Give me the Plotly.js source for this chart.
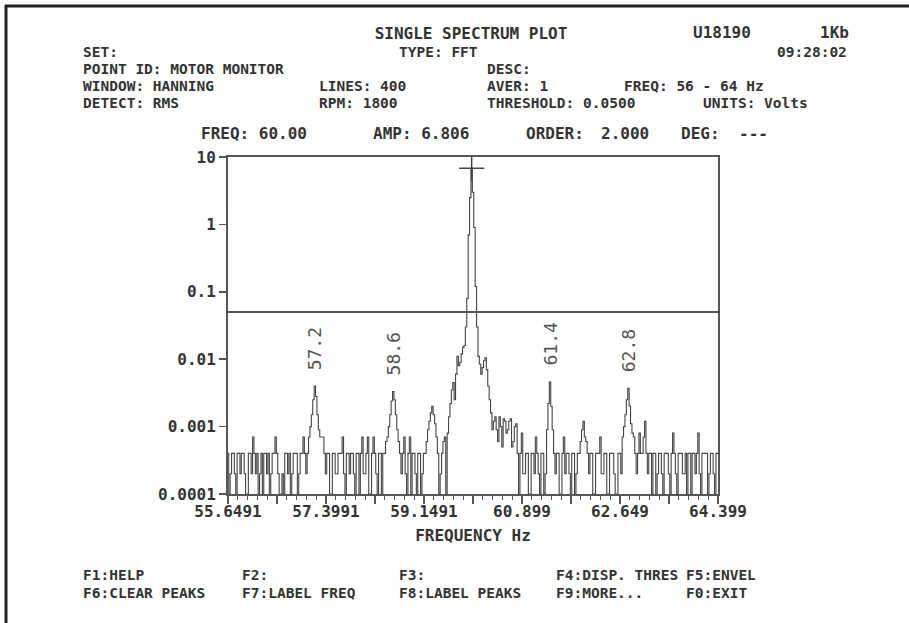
<!DOCTYPE html>
<html><head><meta charset="utf-8">
<script src="https://cdn.plot.ly/plotly-3.0.1.min.js"></script>
<style>html,body{margin:0;padding:0;background:#fff;overflow:hidden}#chart{width:909px;height:623px}</style>
</head><body><div id="chart"></div>
<script>
// ---- data ----
const freqStart = 55.65;   // Hz, first spectral line shown
const freqStep = 0.025;    // Hz between lines
const amplitudes = [
 4e-4,1e-4,2e-4,4e-4,4e-4,2e-4,1e-4,4e-4,4e-4,2e-4,
 4e-4,4e-4,2e-4,1e-4,1e-4,4e-4,4e-4,2e-4,7e-4,4e-4,
 2e-4,4e-4,1e-4,2e-4,4e-4,1e-4,4e-4,4e-4,2e-4,4e-4,
 1e-4,2e-4,4e-4,4e-4,7e-4,4e-4,2e-4,1e-4,1e-4,2e-4,
 1e-4,4e-4,4e-4,2e-4,4e-4,1e-4,2e-4,4e-4,4e-4,4e-4,
 1e-4,2e-4,4e-4,4e-4,7e-4,4e-4,2e-4,4e-4,7e-4,10e-4,
 15e-4,25e-4,40e-4,28e-4,15e-4,9e-4,7e-4,7e-4,7e-4,4e-4,
 2e-4,4e-4,4e-4,1e-4,1e-4,4e-4,4e-4,2e-4,2e-4,4e-4,
 4e-4,4e-4,7e-4,2e-4,1e-4,4e-4,4e-4,2e-4,4e-4,4e-4,
 2e-4,1e-4,4e-4,4e-4,1e-4,4e-4,7e-4,2e-4,2e-4,4e-4,
 7e-4,1e-4,1e-4,4e-4,7e-4,4e-4,2e-4,1e-4,4e-4,4e-4,
 1e-4,4e-4,4e-4,6e-4,7e-4,10e-4,15e-4,24e-4,33e-4,25e-4,
 15e-4,9e-4,6e-4,4e-4,2e-4,4e-4,7e-4,2e-4,1e-4,4e-4,
 7e-4,1e-4,4e-4,4e-4,2e-4,1e-4,4e-4,4e-4,1e-4,2e-4,
 4e-4,4e-4,6e-4,9e-4,12e-4,16e-4,20e-4,15e-4,11e-4,7e-4,
 4e-4,1e-4,2e-4,4e-4,6e-4,7e-4,1e-4,8e-4,14e-4,22e-4,
 35e-4,45e-4,25e-4,60e-4,0.011,0.008,0.009,0.012,0.015,0.016,
 0.03,0.08,0.7,2.5,6.806,3.0,0.9,0.12,0.03,0.011,
 0.0085,0.006,0.0075,0.0095,0.0105,0.007,0.004,0.0025,0.0016,0.0009,
 0.0012,0.0014,0.0009,0.0006,0.0014,0.0010,0.0005,0.0013,0.0012,0.0008,
 0.0009,0.0012,0.0013,0.0005,0.0006,0.0010,0.0011,4e-4,1e-4,4e-4,
 8e-4,2e-4,2e-4,4e-4,4e-4,1e-4,1e-4,4e-4,4e-4,2e-4,
 7e-4,4e-4,2e-4,1e-4,4e-4,4e-4,1e-4,2e-4,9e-4,22e-4,
 46e-4,20e-4,9e-4,4e-4,2e-4,4e-4,4e-4,1e-4,1e-4,4e-4,
 7e-4,2e-4,4e-4,4e-4,2e-4,1e-4,4e-4,4e-4,1e-4,2e-4,
 4e-4,4e-4,6e-4,9e-4,12e-4,7e-4,6e-4,4e-4,2e-4,4e-4,
 4e-4,1e-4,1e-4,4e-4,4e-4,4e-4,7e-4,2e-4,2e-4,4e-4,
 4e-4,1e-4,1e-4,4e-4,4e-4,4e-4,2e-4,1e-4,1e-4,4e-4,
 4e-4,2e-4,7e-4,10e-4,15e-4,25e-4,37e-4,20e-4,11e-4,8e-4,
 7e-4,4e-4,2e-4,4e-4,8e-4,4e-4,4e-4,7e-4,12e-4,4e-4,
 2e-4,4e-4,4e-4,1e-4,4e-4,4e-4,1e-4,2e-4,4e-4,4e-4,
 2e-4,1e-4,4e-4,4e-4,4e-4,2e-4,1e-4,4e-4,8e-4,4e-4,
 2e-4,1e-4,4e-4,4e-4,4e-4,2e-4,2e-4,4e-4,1e-4,4e-4,
 4e-4,1e-4,4e-4,4e-4,2e-4,4e-4,8e-4,2e-4,1e-4,4e-4,
 4e-4,4e-4,4e-4,1e-4,2e-4,4e-4,4e-4,2e-4,1e-4,4e-4,
 4e-4
];
const peakFreqs  = [57.2, 58.6, 61.4, 62.8];
const peakAmps   = [0.0040, 0.0033, 0.0046, 0.0037];
const peakLabels = ["57.2", "58.6", "61.4", "62.8"];
const cursorFreq = 60.00;
const cursorAmp = 6.806;
const threshold = 0.05;
const xTickVals   = [55.6491, 57.3991, 59.1491, 60.8991, 62.6491, 64.3991];
const xTickLabels = ["55.6491", "57.3991", "59.1491", "60.899", "62.649", "64.399"];
const yTickVals   = [10, 1, 0.1, 0.01, 0.001, 0.0001];
const yTickLabels = ["10", "1", "0.1", "0.01", "0.001", "0.0001"];

// ---- layout helpers ----
const W = 909, H = 623;
const PL = 228, PR = 718, PT = 157, PB = 494;
const xp = p => (p - PL) / (PR - PL);
const yp = p => (PB - p) / (PB - PT);
const MONO = '"DejaVu Sans Mono", "Liberation Mono", monospace';
const INK = '#333';
const bigFont = {family: MONO, size: 16, color: INK, weight: 'bold'};
const rowFont = {family: MONO, size: 14.5, color: INK, weight: 'bold'};

const freqs = amplitudes.map((_, i) => freqStart + i * freqStep);

// major + half-way ticks on the x axis
const halfStep = (xTickVals[1] - xTickVals[0]) / 2;
const tv = [], tt = [];
xTickVals.forEach((v, k) => {
  tv.push(v); tt.push(xTickLabels[k]);
  if (k < xTickVals.length - 1) { tv.push(v + halfStep); tt.push(''); }
});

const traces = [
  {x: freqs, y: amplitudes, type: 'scatter', mode: 'lines',
   line: {color: '#444', width: 1.1, shape: 'hvh'}, hoverinfo: 'x+y'},
  {x: [xTickVals[0], xTickVals[xTickVals.length - 1]], y: [threshold, threshold],
   type: 'scatter', mode: 'lines', line: {color: '#555', width: 2}, hoverinfo: 'skip'},
  {x: [cursorFreq], y: [cursorAmp], type: 'scatter', mode: 'markers',
   marker: {symbol: 'cross-thin', size: 18, line: {color: '#444', width: 1.5}}, hoverinfo: 'skip', cliponaxis: false}
];

const header = [
  ['U18190', 692, 33, bigFont], ['1Kb', 819, 33, bigFont],
  ['SET:', 82, 52, rowFont], ['TYPE: FFT', 398, 52, rowFont], ['09:28:02', 776, 52, rowFont],
  ['POINT ID: MOTOR MONITOR', 82, 69, rowFont], ['DESC:', 486, 69, rowFont],
  ['WINDOW: HANNING', 82, 86, rowFont], ['LINES: 400', 318, 86, rowFont], ['AVER: 1', 486, 86, rowFont], ['FREQ: 56 - 64 Hz', 623, 86, rowFont],
  ['DETECT: RMS', 82, 103, rowFont], ['RPM: 1800', 318, 103, rowFont], ['THRESHOLD: 0.0500', 486, 103, rowFont], ['UNITS: Volts', 702, 103, rowFont],
  ['FREQ: 60.00', 200, 133, bigFont], ['AMP: 6.806', 372, 133, bigFont], ['ORDER:', 525, 133, bigFont], ['2.000', 600, 133, bigFont],
  ['DEG:', 680, 133, bigFont], ['---', 738, 133, bigFont],
  ['F1:HELP', 82, 575, rowFont], ['F2:', 241, 575, rowFont], ['F3:', 398, 575, rowFont], ['F4:DISP. THRES', 555, 575, rowFont], ['F5:ENVEL', 685, 575, rowFont],
  ['F6:CLEAR PEAKS', 82, 593, rowFont], ['F7:LABEL FREQ', 241, 593, rowFont], ['F8:LABEL PEAKS', 398, 593, rowFont], ['F9:MORE...', 555, 593, rowFont], ['F0:EXIT', 685, 593, rowFont]
];
const annotations = header.map(([t, x, y, f]) => ({
  text: t, xref: 'paper', yref: 'paper', x: xp(x), y: yp(y),
  xanchor: 'left', yanchor: 'middle', showarrow: false, font: f, borderpad: 0
}));
peakLabels.forEach((t, k) => annotations.push({
  text: t, xref: 'x', yref: 'y', x: peakFreqs[k], y: Math.log10(peakAmps[k]),
  xanchor: 'center', yanchor: 'bottom', yshift: 14, textangle: -90, showarrow: false,
  font: {family: MONO, size: 18, color: '#555'}
}));

const frame = {color: '#222', width: 3};
const layout = {
  width: W, height: H,
  margin: {l: PL, r: W - PR, t: PT, b: H - PB, pad: 0},
  paper_bgcolor: '#fff', plot_bgcolor: '#fff',
  showlegend: false,
  title: {text: 'SINGLE SPECTRUM PLOT', x: 471 / W, xanchor: 'center', y: 1 - 33 / H, yanchor: 'middle', font: bigFont},
  xaxis: {
    range: [xTickVals[0], xTickVals[xTickVals.length - 1]],
    tickmode: 'array', tickvals: tv, ticktext: tt,
    ticks: 'outside', ticklen: 8, tickwidth: 1.5, tickcolor: '#555',
    ticklabelstandoff: -6,
    minor: {tick0: xTickVals[0], dtick: halfStep / 5, ticks: 'outside', ticklen: 4, tickwidth: 1, tickcolor: '#555', showgrid: false},
    showline: true, linecolor: '#555', linewidth: 2, mirror: true,
    showgrid: false, zeroline: false, tickfont: bigFont,
    title: {text: 'FREQUENCY Hz', font: bigFont, standoff: 10}
  },
  yaxis: {
    type: 'log', range: [-4, 1],
    tickmode: 'array', tickvals: yTickVals, ticktext: yTickLabels,
    ticks: 'outside', ticklen: 7, tickwidth: 1.5, tickcolor: '#555',
    showline: true, linecolor: '#555', linewidth: 2, mirror: true,
    showgrid: false, zeroline: false, tickfont: bigFont
  },
  annotations: annotations,
  shapes: [
    {type: 'line', xref: 'paper', yref: 'paper', x0: xp(5), x1: xp(W + 5), y0: yp(6), y1: yp(6), line: frame},
    {type: 'line', xref: 'paper', yref: 'paper', x0: xp(6), x1: xp(6), y0: yp(5), y1: yp(H + 5), line: frame}
  ]
};
Plotly.newPlot('chart', traces, layout, {displayModeBar: false, staticPlot: true});
</script>
</body></html>
